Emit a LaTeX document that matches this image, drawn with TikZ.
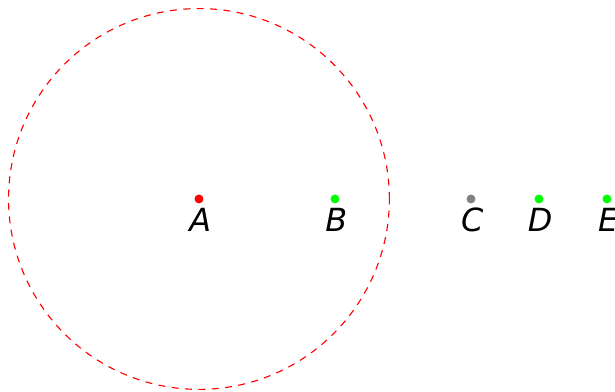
\documentclass[tikz,border=0pt]{standalone}
\usepackage{fontspec}
\setmainfont{DejaVu Sans}
\setsansfont{DejaVu Sans}
\begin{document}
\begin{tikzpicture}[x=1.5cm,y=1.5cm,
  pt/.style={circle,inner sep=0pt,minimum size=2.8pt},
  lbl/.style={anchor=base,font=\sffamily\itshape\fontsize{10}{12}\selectfont},
  ring/.style={red,line width=0.35pt,dash pattern=on 2.2pt off 2pt}]
\useasboundingbox (-1.463,-1.419) rectangle (3.059,1.463);
\coordinate (A) at (0,0);
\coordinate (B) at (1,0);
\coordinate (C) at (2,0);
\coordinate (D) at (2.5,0);
\coordinate (E) at (3,0);
\draw[ring] (A) circle (1.40);
\node[pt,fill=red] (pA) at (A) {};
\node[pt,fill=green] (pB) at (B) {};
\node[pt,fill=gray] (pC) at (C) {};
\node[pt,fill=green] (pD) at (D) {};
\node[pt,fill=green] (pE) at (E) {};
\node[lbl] (lA) at ([xshift=0.4pt,yshift=-10.3pt]A) {A};
\node[lbl] (lB) at ([xshift=0.4pt,yshift=-10.3pt]B) {B};
\node[lbl] (lC) at ([xshift=0.4pt,yshift=-10.3pt]C) {C};
\node[lbl] (lD) at ([xshift=0.4pt,yshift=-10.3pt]D) {D};
\node[lbl] (lE) at ([xshift=0.4pt,yshift=-10.3pt]E) {E};
\end{tikzpicture}
\end{document}
